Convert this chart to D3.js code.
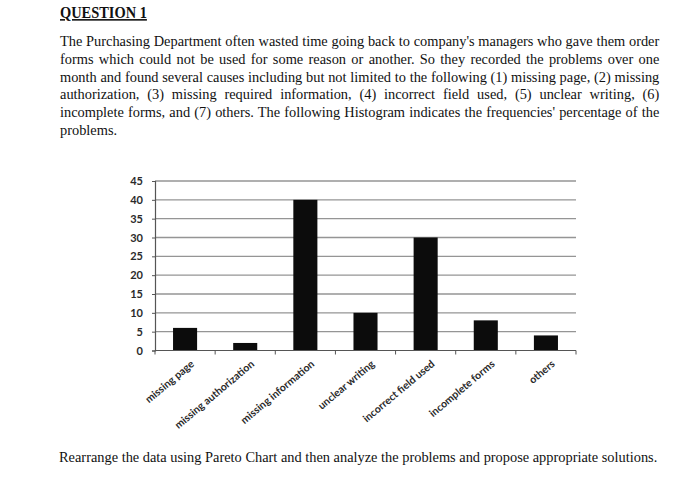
<!DOCTYPE html>
<html><head><meta charset="utf-8">
<script src="https://cdn.jsdelivr.net/npm/d3@7"></script>
<style>body{margin:0;background:#fff}svg{display:block}</style>
</head><body>
<svg id="c" width="700" height="502"></svg>
<script>
const categories = ["missing page","missing authorization","missing information","unclear writing","incorrect field used","incomplete forms","others"];
const percentages = [6,2,40,10,30,8,4];
const yTicks = [0,5,10,15,20,25,30,35,40,45];
const titleText = "QUESTION 1";
const paragraphLines = [
  "The Purchasing Department often wasted time going back to company's managers who gave them order",
  "forms which could not be used for some reason or another. So they recorded the problems over one",
  "month and found several causes including but not limited to the following (1) missing page, (2) missing",
  "authorization, (3) missing required information, (4) incorrect field used, (5) unclear writing, (6)",
  "incomplete forms, and (7) others. The following Histogram indicates the frequencies' percentage of the",
  "problems."
];
const footerText = "Rearrange the data using Pareto Chart and then analyze the problems and propose appropriate solutions.";

const svg = d3.select("#c");
svg.append("rect").attr("width",700).attr("height",502).attr("fill","#fff");

// ---- text ----
const FS = 15.5;
const tg = svg.append("g").attr("font-family","'Liberation Serif','Times New Roman',serif").attr("font-size",FS).attr("fill","#111");
const foot = tg.append("text").attr("x",0).attr("y",0).text(footerText);
const k = 599 / foot.node().getComputedTextLength();
foot.attr("transform",`translate(59,462) scale(${k},1)`);

const title = tg.append("text").attr("font-weight","bold").attr("font-size",16)
  .attr("text-decoration","underline").text(titleText);
const tw = title.node().getComputedTextLength();
title.attr("transform",`translate(60,18) scale(${87/tw},1)`);

const lineW = 600, baseY = 46, lh = 17.8;
paragraphLines.forEach((ln,i)=>{
  const t = tg.append("text").text(ln);
  const w = t.node().getComputedTextLength();
  if (i < paragraphLines.length-1) {
    const n = (ln.match(/ /g)||[]).length;
    t.attr("word-spacing", (lineW/k - w)/n);
  }
  t.attr("transform",`translate(60,${baseY+i*lh}) scale(${k},1)`);
});

// ---- chart ----
const x = d3.scaleBand().domain(categories).range([155,576]).paddingInner(0.6).paddingOuter(0.3);
const y = d3.scaleLinear().domain([0,45]).range([350.5,181]);
const step = x.step();

svg.append("g").selectAll("line").data(yTicks.filter(d=>d>0)).join("line")
  .attr("x1",155).attr("x2",576).attr("y1",d=>y(d)).attr("y2",d=>y(d))
  .attr("stroke","#959595").attr("stroke-width",1.3);

svg.append("g").selectAll("rect").data(percentages).join("rect")
  .attr("x",(d,i)=>x(categories[i])).attr("width",x.bandwidth())
  .attr("y",d=>y(d)).attr("height",d=>y(0)-y(d)).attr("fill","#0c0c0c");

const ya = svg.append("g").attr("transform","translate(155,0)")
  .call(d3.axisLeft(y).tickValues(yTicks).tickSize(3).tickPadding(9));
ya.select(".domain").attr("stroke","#555").attr("stroke-width",1.2);
ya.selectAll(".tick line").attr("stroke","#555");
ya.selectAll("text").attr("font-family","Lato, 'Open Sans', sans-serif").attr("font-weight","bold").attr("font-size",11).attr("fill","#2a2a2a");

const xb = d3.range(categories.length+1).map(i=>155+i*step);
const xa = svg.append("g");
xa.append("line").attr("x1",155).attr("x2",576).attr("y1",y(0)).attr("y2",y(0)).attr("stroke","#555").attr("stroke-width",1.2);
xa.selectAll("line.t").data(xb).join("line").attr("class","t")
  .attr("x1",d=>d).attr("x2",d=>d).attr("y1",y(0)).attr("y2",y(0)+4).attr("stroke","#555");
xa.selectAll("text").data(categories).join("text")
  .attr("transform",d=>`translate(${x(d)+x.bandwidth()/2+5},${y(0)+9}) rotate(-40)`)
  .attr("text-anchor","end").attr("dy","0.7em")
  .attr("font-family","Lato, 'Open Sans', sans-serif").attr("font-weight","bold").attr("font-size",10.5).attr("fill","#2a2a2a")
  .text(d=>d);
</script>
</body></html>
